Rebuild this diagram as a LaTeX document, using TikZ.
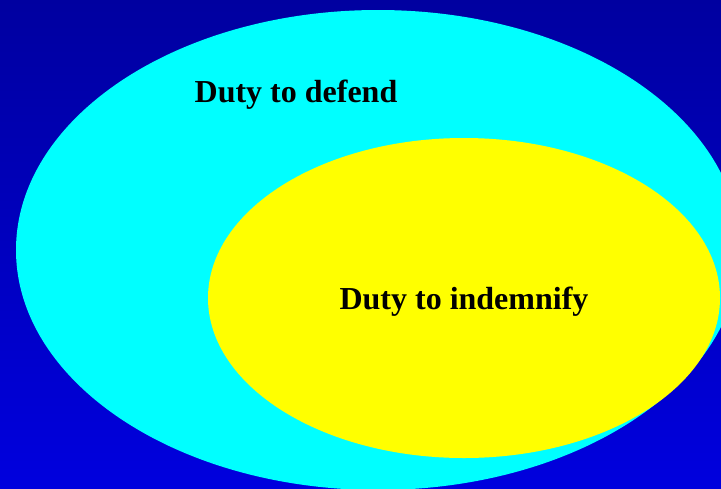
\documentclass[tikz,border=0pt]{standalone}
\usepackage{fontspec}
\setmainfont{Liberation Serif}
\definecolor{bgtop}{RGB}{0,0,160}
\definecolor{bgbot}{RGB}{0,0,222}
\definecolor{cyanfill}{RGB}{0,255,255}
\definecolor{yellowfill}{RGB}{255,255,0}
\tikzset{
  lbl/.style={font=\fontsize{32}{38}\selectfont\bfseries, text=black, inner sep=0pt, anchor=base},
}
\begin{document}
\begin{tikzpicture}[x=1pt,y=-1pt]
\useasboundingbox (0,0) rectangle (721,488);
\shade[top color=bgtop, bottom color=bgbot] (0,0) rectangle (721,488);
\begin{scope}
\clip (0,0) rectangle (721,488);
\fill[cyanfill] (378,250) ellipse [x radius=362, y radius=240];
\fill[yellowfill] (464,298) ellipse [x radius=256, y radius=160];
\end{scope}
\node[lbl] (defend) at (296,102) {Duty to defend};
\node[lbl] (indemnify) at (464,309) {Duty to indemnify};
\end{tikzpicture}
\end{document}
